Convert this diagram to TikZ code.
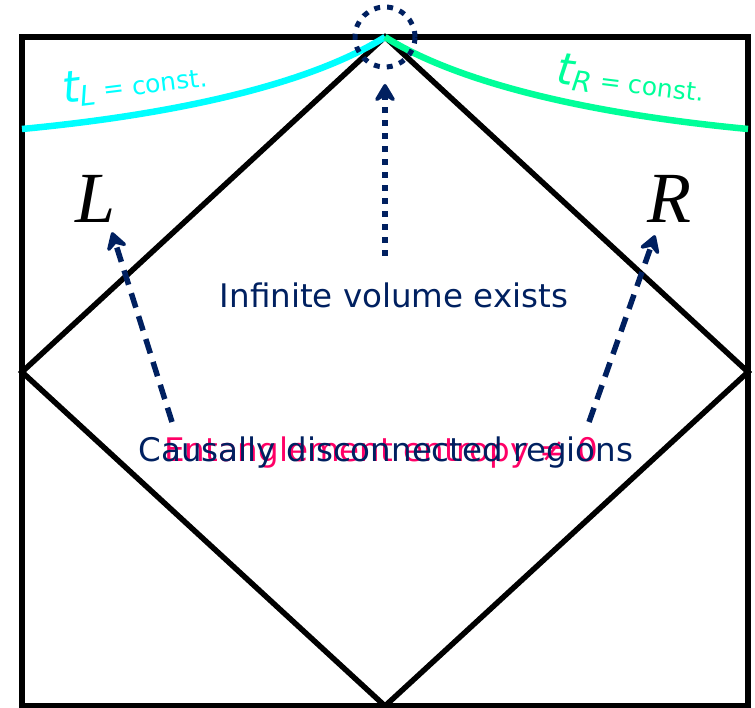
\documentclass[tikz,border=0pt]{standalone}
\usepackage{fontspec}
\setmainfont{DejaVu Sans}
\newfontfamily\serifit{Liberation Serif}
\usetikzlibrary{arrows.meta}
\definecolor{navy}{RGB}{0,32,96}
\definecolor{pinkc}{RGB}{255,0,102}
\definecolor{cyanc}{RGB}{0,255,255}
\definecolor{greenc}{RGB}{0,255,153}
\begin{document}
\begin{tikzpicture}[x=1pt,y=-1pt,
  frame/.style={line width=5.5pt,black},
  tipst/.style={-{Stealth[length=22pt,width=26pt,inset=8pt,round]}},
  darr/.style={navy,line width=5.5pt,dash pattern=on 15pt off 9pt,tipst},
  lbl/.style={font=\fontsize{32.5}{38}\selectfont},
  bigit/.style={font=\fontsize{72}{80}\selectfont\serifit\itshape, inner sep=0pt, anchor=base},
  tlab/.style={font=\fontsize{25}{28}\selectfont}]
\useasboundingbox (0,0) rectangle (755,708);
% frame and diamond
\draw[frame] (22,37) rectangle (748,706);
\coordinate (T) at (385,37);
\coordinate (Lm) at (22,372);
\coordinate (B) at (385,706);
\coordinate (Rm) at (748,372);
\draw[frame,line join=miter] (T) -- (Lm) -- (B) -- (Rm) -- cycle;
% curves
\draw[cyanc,line width=6.5pt] (22,129) .. controls (200,112) and (320,78) .. (T);
\draw[greenc,line width=6.5pt] (T) .. controls (450,78) and (570,112) .. (748,129);
\node[cyanc,rotate=7,tlab] (tl) at (135,82) {\fontsize{44}{46}\selectfont\itshape t\kern-1pt\raisebox{-5pt}{\fontsize{28}{30}\selectfont\itshape L}\fontsize{25}{28}\selectfont\upshape{} = const.};
\node[greenc,rotate=-7,tlab] (tr) at (631,80) {\fontsize{44}{46}\selectfont\itshape t\kern-1pt\raisebox{-5pt}{\fontsize{28}{30}\selectfont\itshape R}\fontsize{25}{28}\selectfont\upshape{} = const.};
% dotted circle
\draw[navy,line width=5pt,dash pattern=on 6pt off 7pt] (T) circle (30pt);
% L R
\node[bigit] (L) at (96,223) {L};
\node[bigit] (R) at (669,223) {R};
% texts
\node[lbl,navy] (inf) at (394,295) {Infinite volume exists};
\node[lbl,pinkc] (ent) at (381,453) {Entanglement entropy ≠ 0};
\node[lbl,navy] (cau) at (386,453) {Causally disconnected regions};
% arrows
\coordinate (a1) at (172,422);
\coordinate (a2) at (589,422);
\coordinate (a3) at (385,256);
\draw[darr] (a1) -- ([xshift=16pt,yshift=-9pt]L.south);
\draw[darr] (a2) -- ([xshift=-14pt,yshift=-12pt]R.south);
\draw[navy,line width=5.5pt,dash pattern=on 6pt off 7pt,tipst] (a3) -- ([yshift=-47pt]T);
\end{tikzpicture}
\end{document}
